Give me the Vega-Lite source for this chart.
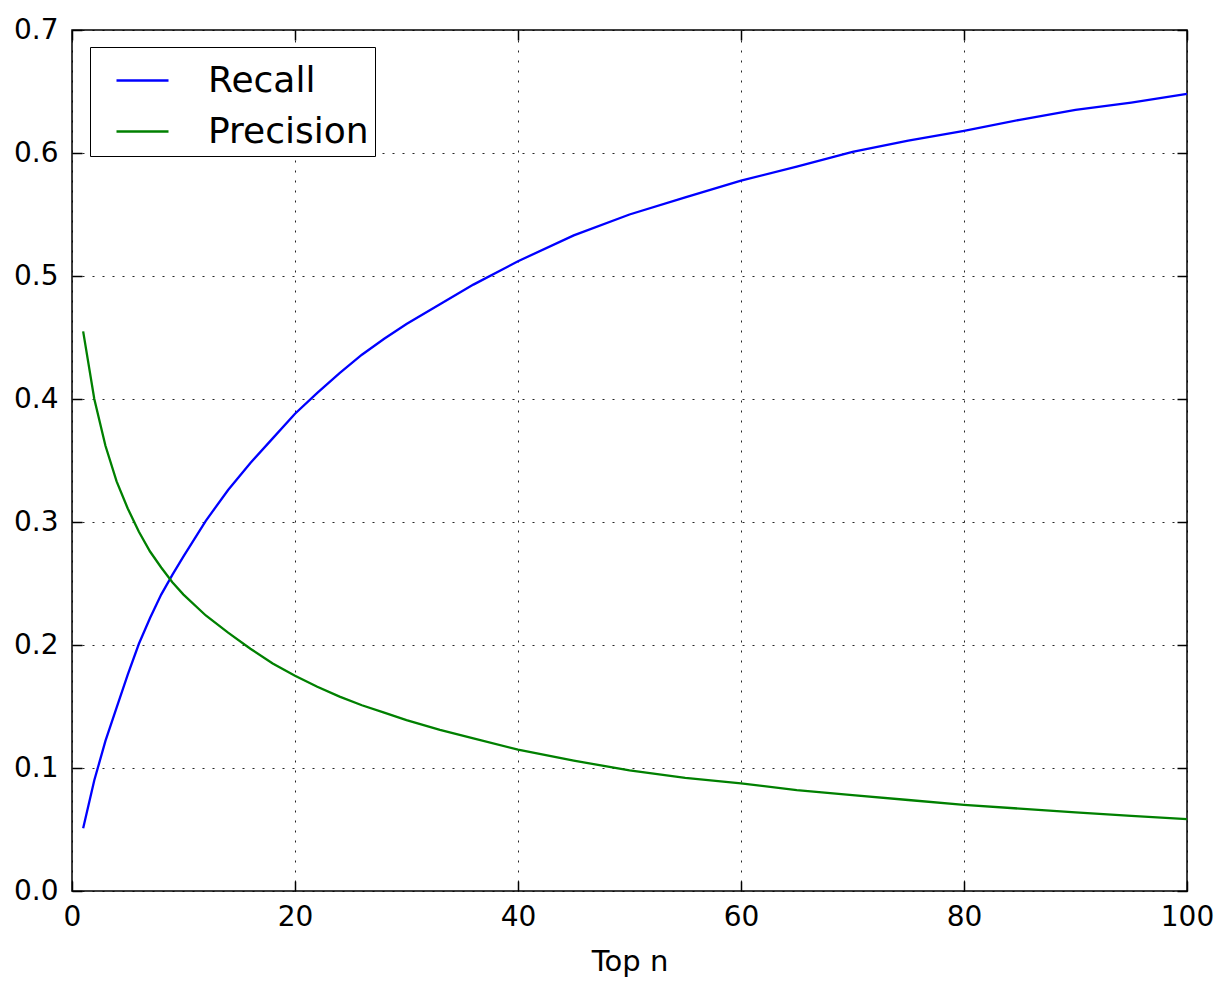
{
  "$schema": "https://vega.github.io/schema/vega-lite/v6.json",
  "width": 1115,
  "height": 861,
  "autosize": {"type": "none"},
  "padding": {"left": 72, "top": 30, "right": 33, "bottom": 92},
  "background": "white",
  "config": {
    "font": "DejaVu Sans",
    "view": {"stroke": "black", "strokeWidth": 1.5},
    "axis": {
      "domain": false,
      "labelFont": "DejaVu Sans",
      "labelFontSize": 28,
      "labelColor": "black",
      "labelFlush": false,
      "titleFont": "DejaVu Sans",
      "titleFontSize": 29,
      "titleFontWeight": "normal",
      "titleColor": "black",
      "tickColor": "black",
      "tickWidth": 1.5,
      "tickSize": -10,
      "gridColor": "black",
      "gridOpacity": 0.85,
      "gridWidth": 1,
      "gridDash": [2, 8]
    }
  },
  "data": {
    "values": [
      {"n": 1, "metric": "Recall", "value": 0.051},
      {"n": 2, "metric": "Recall", "value": 0.09},
      {"n": 3, "metric": "Recall", "value": 0.122},
      {"n": 4, "metric": "Recall", "value": 0.149},
      {"n": 5, "metric": "Recall", "value": 0.176},
      {"n": 6, "metric": "Recall", "value": 0.201},
      {"n": 7, "metric": "Recall", "value": 0.222},
      {"n": 8, "metric": "Recall", "value": 0.241},
      {"n": 9, "metric": "Recall", "value": 0.257},
      {"n": 10, "metric": "Recall", "value": 0.272},
      {"n": 12, "metric": "Recall", "value": 0.301},
      {"n": 14, "metric": "Recall", "value": 0.326},
      {"n": 16, "metric": "Recall", "value": 0.348},
      {"n": 18, "metric": "Recall", "value": 0.368},
      {"n": 20, "metric": "Recall", "value": 0.388},
      {"n": 22, "metric": "Recall", "value": 0.405},
      {"n": 24, "metric": "Recall", "value": 0.421},
      {"n": 26, "metric": "Recall", "value": 0.436},
      {"n": 28, "metric": "Recall", "value": 0.449},
      {"n": 30, "metric": "Recall", "value": 0.461},
      {"n": 33, "metric": "Recall", "value": 0.477},
      {"n": 36, "metric": "Recall", "value": 0.493},
      {"n": 40, "metric": "Recall", "value": 0.512},
      {"n": 45, "metric": "Recall", "value": 0.533},
      {"n": 50, "metric": "Recall", "value": 0.55},
      {"n": 55, "metric": "Recall", "value": 0.564},
      {"n": 60, "metric": "Recall", "value": 0.5775},
      {"n": 65, "metric": "Recall", "value": 0.589},
      {"n": 70, "metric": "Recall", "value": 0.601},
      {"n": 75, "metric": "Recall", "value": 0.61},
      {"n": 80, "metric": "Recall", "value": 0.618},
      {"n": 85, "metric": "Recall", "value": 0.627},
      {"n": 90, "metric": "Recall", "value": 0.635},
      {"n": 95, "metric": "Recall", "value": 0.641},
      {"n": 100, "metric": "Recall", "value": 0.648},
      {"n": 1, "metric": "Precision", "value": 0.455},
      {"n": 2, "metric": "Precision", "value": 0.4},
      {"n": 3, "metric": "Precision", "value": 0.362},
      {"n": 4, "metric": "Precision", "value": 0.333},
      {"n": 5, "metric": "Precision", "value": 0.311},
      {"n": 6, "metric": "Precision", "value": 0.292},
      {"n": 7, "metric": "Precision", "value": 0.276},
      {"n": 8, "metric": "Precision", "value": 0.263},
      {"n": 9, "metric": "Precision", "value": 0.251},
      {"n": 10, "metric": "Precision", "value": 0.241},
      {"n": 12, "metric": "Precision", "value": 0.224},
      {"n": 14, "metric": "Precision", "value": 0.21},
      {"n": 16, "metric": "Precision", "value": 0.197},
      {"n": 18, "metric": "Precision", "value": 0.185},
      {"n": 20, "metric": "Precision", "value": 0.175},
      {"n": 22, "metric": "Precision", "value": 0.166},
      {"n": 24, "metric": "Precision", "value": 0.158},
      {"n": 26, "metric": "Precision", "value": 0.151},
      {"n": 28, "metric": "Precision", "value": 0.145},
      {"n": 30, "metric": "Precision", "value": 0.139},
      {"n": 33, "metric": "Precision", "value": 0.131},
      {"n": 36, "metric": "Precision", "value": 0.124},
      {"n": 40, "metric": "Precision", "value": 0.115},
      {"n": 45, "metric": "Precision", "value": 0.106},
      {"n": 50, "metric": "Precision", "value": 0.098},
      {"n": 55, "metric": "Precision", "value": 0.092},
      {"n": 60, "metric": "Precision", "value": 0.0875},
      {"n": 65, "metric": "Precision", "value": 0.082},
      {"n": 70, "metric": "Precision", "value": 0.078},
      {"n": 75, "metric": "Precision", "value": 0.074},
      {"n": 80, "metric": "Precision", "value": 0.07},
      {"n": 85, "metric": "Precision", "value": 0.067},
      {"n": 90, "metric": "Precision", "value": 0.064},
      {"n": 95, "metric": "Precision", "value": 0.061},
      {"n": 100, "metric": "Precision", "value": 0.0585}
    ]
  },
  "layer": [
    {
      "mark": {"type": "line", "strokeWidth": 2.3},
      "encoding": {
        "x": {
          "field": "n",
          "type": "quantitative",
          "scale": {"domain": [0, 100], "nice": false, "zero": false},
          "axis": {
            "orient": "bottom",
            "title": "Top n",
            "values": [0, 20, 40, 60, 80, 100],
            "format": "d",
            "grid": true,
            "labelPadding": 22,
            "titlePadding": 16
          }
        },
        "y": {
          "field": "value",
          "type": "quantitative",
          "scale": {"domain": [0, 0.7], "nice": false},
          "axis": {
            "orient": "left",
            "title": null,
            "values": [0, 0.1, 0.2, 0.3, 0.4, 0.5, 0.6, 0.7],
            "format": ".1f",
            "grid": true,
            "labelPadding": 24
          }
        },
        "color": {
          "field": "metric",
          "type": "nominal",
          "sort": ["Recall", "Precision"],
          "scale": {"domain": ["Recall", "Precision"], "range": ["#0000ff", "#008000"]},
          "legend": {
            "title": null,
            "orient": "none",
            "legendX": 18,
            "legendY": 17,
            "direction": "vertical",
            "strokeColor": "black",
            "fillColor": "white",
            "padding": 6,
            "symbolType": "stroke",
            "symbolSize": 2704,
            "symbolStrokeWidth": 2.3,
            "symbolOffset": 19,
            "labelFont": "DejaVu Sans",
            "labelFontSize": 36,
            "labelColor": "black",
            "labelOffset": 38,
            "labelLimit": 400,
            "rowPadding": 5
          }
        }
      }
    },
    {
      "mark": {"type": "line", "opacity": 0},
      "encoding": {
        "x": {
          "field": "n",
          "type": "quantitative",
          "axis": {"orient": "top", "title": null, "values": [0, 20, 40, 60, 80, 100], "labels": false, "grid": false}
        },
        "y": {
          "field": "value",
          "type": "quantitative",
          "axis": {"orient": "right", "title": null, "values": [0, 0.1, 0.2, 0.3, 0.4, 0.5, 0.6, 0.7], "labels": false, "grid": false}
        },
        "detail": {"field": "metric"}
      }
    }
  ],
  "resolve": {"axis": {"x": "independent", "y": "independent"}}
}
